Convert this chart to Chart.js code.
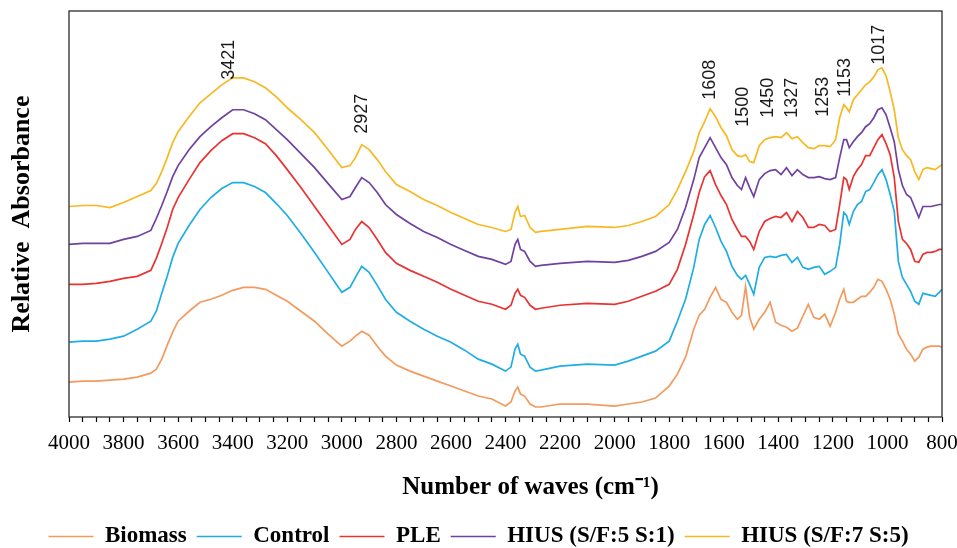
<!DOCTYPE html>
<html>
<head>
<meta charset="utf-8">
<script src="https://cdn.jsdelivr.net/npm/chart.js@4.4.1/dist/chart.umd.min.js"></script>
<style>
  html, body { margin: 0; padding: 0; background: #fff; }
  #wrap { width: 957px; height: 548px; }
</style>
</head>
<body>
<div id="wrap"><canvas id="c" width="957" height="548"></canvas></div>
<script>
// Wavenumbers (cm-1)
const wavenumbers = [
  4000,3950,3900,3850,3800,3750,3700,3680,3660,3640,
  3620,3600,3560,3520,3480,3440,3400,3360,3320,3280,
  3240,3200,3150,3100,3050,3000,2970,2950,2927,2900,
  2870,2840,2800,2750,2700,2650,2600,2550,2500,2450,
  2400,2380,2365,2355,2345,2330,2310,2290,2270,2200,
  2100,2000,1950,1900,1850,1800,1770,1740,1710,1690,
  1670,1650,1630,1610,1590,1570,1550,1535,1520,1505,
  1490,1470,1450,1430,1410,1390,1370,1350,1330,1310,
  1290,1270,1250,1230,1210,1190,1175,1160,1150,1140,
  1125,1110,1095,1080,1065,1050,1035,1020,1005,990,
  975,960,945,930,915,900,885,870,855,840,
  825,810,800
];

// Relative absorbance (arbitrary units, spectra offset vertically)
const biomass = [
  35,36,36,37,38,40,44,48,58,72,
  85,96,106,115,118,122,127,130,130,128,
  122,116,106,96,83,71,76,81,86,82,
  71,61,52,46,41,36,31,26,21,18,
  11,15,26,30,23,21,13,10,10,13,
  13,11,13,15,19,31,43,60,88,102,
  108,120,130,118,115,105,98,102,131,100,
  88,98,105,115,95,92,90,86,89,101,
  113,100,98,103,91,105,118,128,116,115,
  115,118,121,121,125,130,138,136,128,118,
  103,83,76,68,63,56,60,68,70,71,
  71,71,70
];
const control = [
  75,76,76,78,81,88,96,106,124,141,
  160,174,192,208,220,229,235,235,231,225,
  214,202,184,165,145,125,130,140,151,145,
  132,118,105,96,88,81,75,67,58,53,
  46,50,68,73,63,61,50,46,47,51,
  53,52,56,61,66,76,96,118,150,178,
  193,202,190,176,166,151,142,138,142,133,
  123,150,160,161,160,162,163,155,160,150,
  148,150,151,143,146,150,173,205,202,193,
  206,213,216,226,228,235,243,248,238,223,
  206,156,140,133,126,116,113,124,123,122,
  121,125,128
];
const ple = [
  133,133,134,136,139,141,147,159,174,190,
  208,220,238,255,267,277,284,284,280,274,
  262,248,230,211,192,173,178,188,196,190,
  178,165,154,147,141,135,128,122,116,113,
  108,112,124,128,122,120,112,108,109,112,
  114,113,116,121,126,133,148,173,203,225,
  241,247,233,222,213,198,188,181,181,176,
  168,186,196,199,201,200,205,196,206,200,
  190,190,193,192,186,188,213,240,238,228,
  241,248,253,262,262,270,278,283,274,263,
  240,196,178,174,168,156,155,163,165,165,
  166,168,168
];
const hius51 = [
  173,174,174,174,178,181,187,199,212,226,
  241,252,268,281,291,300,308,308,304,298,
  288,278,264,250,234,218,221,230,240,235,
  225,213,203,194,186,180,173,167,161,158,
  153,156,173,178,168,166,156,151,152,154,
  156,155,157,161,166,175,188,210,238,260,
  270,280,270,260,253,240,232,228,240,230,
  221,238,244,247,248,243,250,242,248,243,
  240,240,241,239,238,240,260,278,278,270,
  276,281,285,291,294,300,308,310,303,290,
  276,248,232,223,220,210,200,211,211,211,
  212,213,213
];
const hius75 = [
  211,212,212,210,215,221,227,234,246,260,
  275,286,301,315,324,333,340,340,336,330,
  321,310,298,285,268,250,252,260,273,268,
  258,246,233,226,218,212,205,199,193,190,
  186,188,205,211,201,202,190,185,186,188,
  191,190,192,196,201,213,228,246,266,285,
  296,309,301,290,282,268,262,261,263,256,
  255,272,278,280,281,280,285,279,281,275,
  270,269,272,272,271,278,300,313,310,306,
  318,323,328,333,336,341,348,350,342,326,
  308,280,268,262,258,246,238,248,250,249,
  248,251,253
];

const seriesNames = ['Biomass', 'Control', 'PLE', 'HIUS (S/F:5 S:1)', 'HIUS (S/F:7 S:5)'];
const seriesValues = [biomass, control, ple, hius51, hius75];
const seriesColors = ['#F39A5E', '#1FADE4', '#E93232', '#6F42A0', '#F8B822'];

// Band labels
const peakLabels = ['3421', '2927', '1608', '1500', '1450', '1327', '1253', '1153', '1017'];
const peakLabelX = [3415, 2927, 1650, 1529, 1438, 1350, 1236, 1155, 1031];
const peakLabelY = [338, 284, 318, 291, 300, 300, 301, 321, 353];

const xTickValues = [4000, 3800, 3600, 3400, 3200, 3000, 2800, 2600, 2400, 2200, 2000, 1800, 1600, 1400, 1200, 1000, 800];

const serif = "'Liberation Serif', 'Times New Roman', serif";
const sans = "'Liberation Sans', Arial, sans-serif";

const datasets = seriesNames.map((name, i) => ({
  label: name,
  data: wavenumbers.map((w, k) => ({ x: w, y: seriesValues[i][k] })),
  borderColor: seriesColors[i],
  backgroundColor: seriesColors[i],
  borderWidth: 1.7,
  pointRadius: 0,
  tension: 0,
  fill: false
}));

const framePlugin = {
  id: 'frame',
  afterDatasetsDraw(chart) {
    const { ctx, chartArea: a } = chart;
    ctx.save();
    ctx.strokeStyle = '#2b2b2b';
    ctx.lineWidth = 1.3;
    ctx.strokeRect(a.left, a.top, a.right - a.left, a.bottom - a.top);
    ctx.restore();
  }
};

// centre the legend under the whole figure (not only the plot box)
const legendShift = {
  id: 'legendShift',
  afterLayout(chart) {
    const lg = chart.legend;
    if (lg) { lg.right = chart.width; lg.width = lg.right - lg.left; }
  }
};

const peakPlugin = {
  id: 'peaks',
  afterDatasetsDraw(chart) {
    const { ctx } = chart;
    const xs = chart.scales.x, ys = chart.scales.y;
    ctx.save();
    ctx.fillStyle = '#1a1a1a';
    ctx.font = '18px ' + sans;
    ctx.textAlign = 'left';
    ctx.textBaseline = 'middle';
    peakLabels.forEach((t, i) => {
      const px = xs.getPixelForValue(peakLabelX[i]);
      const py = ys.getPixelForValue(peakLabelY[i]);
      ctx.save();
      ctx.translate(px, py);
      ctx.rotate(-Math.PI / 2);
      ctx.fillText(t, 0, 0);
      ctx.restore();
    });
    ctx.restore();
  }
};

new Chart(document.getElementById('c'), {
  type: 'line',
  data: { datasets },
  plugins: [framePlugin, peakPlugin, legendShift],
  options: {
    responsive: false,
    animation: false,
    devicePixelRatio: 1,
    layout: { padding: { top: 11, right: 15, left: 0, bottom: -10 } },
    plugins: {
      tooltip: { enabled: false },
      legend: {
        position: 'bottom',
        labels: {
          usePointStyle: true,
          pointStyle: 'line',
          pointStyleWidth: 45,
          color: '#000',
          padding: 10,
          font: { family: serif, size: 23, weight: 'bold' }
        }
      }
    },
    scales: {
      x: {
        type: 'linear',
        reverse: true,
        min: 800,
        max: 4000,
        afterFit: s => { s.height = 98; s.paddingRight = 0; s.paddingLeft = 0; },
        ticks: {
          stepSize: 50,
          autoSkip: false,
          maxRotation: 0,
          padding: 9,
          color: '#000',
          font: { family: serif, size: 21 },
          callback: v => (xTickValues.includes(v) ? String(v) : '')
        },
        grid: {
          display: true,
          drawOnChartArea: false,
          drawTicks: true,
          tickLength: 5,
          tickColor: '#000',
          tickWidth: 1.2
        },
        border: { display: false },
        title: {
          display: true,
          text: '        Number of waves (cm\u207B\u00B9)',
          color: '#000',
          font: { family: serif, size: 25, weight: 'bold' },
          padding: { top: 0, bottom: 12 }
        }
      },
      y: {
        type: 'linear',
        min: 0,
        max: 407,
        afterFit: s => { s.width = 69; },
        ticks: { display: false },
        grid: { display: false, drawTicks: false },
        border: { display: false },
        title: {
          display: true,
          text: 'Relative  Absorbance',
          color: '#000',
          font: { family: serif, size: 26, weight: 'bold' },
          padding: { top: 7, bottom: 0 }
        }
      }
    }
  }
});
</script>
</body>
</html>
